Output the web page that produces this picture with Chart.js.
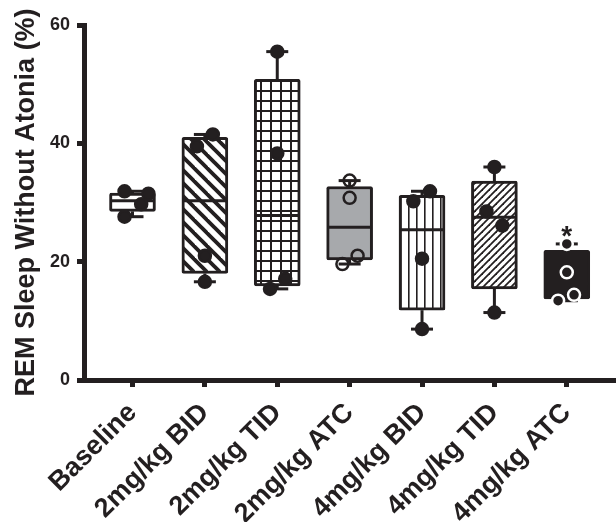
<!DOCTYPE html>
<html>
<head>
<meta charset="utf-8">
<script src="https://cdn.jsdelivr.net/npm/chart.js@4.4.1/dist/chart.umd.min.js"></script>
<style>
  html, body { margin: 0; padding: 0; background: #fff; }
  #wrap { width: 616px; height: 522px; }
</style>
</head>
<body>
<div id="wrap"><canvas id="chart"></canvas></div>
<script>
// data
const groups = ['Baseline', '2mg/kg BID', '2mg/kg TID', '2mg/kg ATC', '4mg/kg BID', '4mg/kg TID', '4mg/kg ATC'];
const whiskerLow  = [27.6, 16.6, 15.4, 19.6,  8.6, 11.4, 13.4];
const q1          = [28.5, 18.0, 15.9, 20.3, 11.8, 15.4, 13.7];
const median      = [30.3, 30.3, 27.8, 25.8, 25.4, 27.5, 16.3];
const q3          = [31.6, 41.0, 50.8, 32.7, 31.2, 33.6, 21.9];
const whiskerHigh = [31.9, 41.5, 55.5, 33.7, 31.9, 36.0, 23.0];
const points = [
  [31.9, 31.5, 29.7, 27.6],
  [41.5, 39.5, 21.0, 16.6],
  [55.5, 38.3, 17.1, 15.4],
  [33.7, 30.8, 21.0, 19.6],
  [31.9, 30.2, 20.5,  8.6],
  [36.0, 28.5, 26.1, 11.4],
  [23.0, 18.2, 14.4, 13.4]
];
const significance = ['', '', '', '', '', '', '*'];
const yTicks = [0, 20, 40, 60];

// horizontal scatter of the dots within each group (in category units)
const jitter = [
  [-0.11, 0.22, 0.12, -0.11],
  [0.11, -0.11, 0, 0],
  [0, 0, 0.11, -0.1],
  [0, 0, 0.11, -0.1],
  [0.11, -0.12, 0, 0],
  [0, -0.11, 0.11, 0],
  [0, 0, 0.1, -0.12]
];

const ink = '#231f20';
const FONT = "'Liberation Sans', Arial, sans-serif";

function tile(w, h, draw) {
  const c = document.createElement('canvas');
  c.width = w; c.height = h;
  const g = c.getContext('2d');
  g.fillStyle = '#fff';
  g.fillRect(0, 0, w, h);
  g.fillStyle = ink;
  g.strokeStyle = ink;
  draw(g, w, h);
  return g.createPattern(c, 'repeat');
}

function diagonal(s, width, dir) {
  return tile(s, s, (g) => {
    g.lineWidth = width;
    for (let k = -1; k <= 1; k++) {
      g.beginPath();
      if (dir === 'back') {
        g.moveTo(k * s - s, -s);
        g.lineTo(k * s + 2 * s, 2 * s);
      } else {
        g.moveTo(k * s - s, 2 * s);
        g.lineTo(k * s + 2 * s, -s);
      }
      g.stroke();
    }
  });
}

const fills = [
  '#ffffff',
  diagonal(13, 3.8, 'back'),
  tile(10, 10, (g, w, h) => { g.fillRect(0, 0, w, 2); g.fillRect(0, 0, 2, h); }),
  '#a7a9ac',
  tile(8, 8, (g, w, h) => { g.fillRect(0, 0, 1.6, h); }),
  diagonal(7, 1.8, 'fwd'),
  ink
];

const dotData = [], dotFill = [], dotEdge = [];
points.forEach((vals, i) => {
  vals.forEach((v, j) => {
    dotData.push({ x: i + 1 + jitter[i][j], y: v });
    if (i === 3) { dotFill.push('rgba(0,0,0,0)'); dotEdge.push(ink); }
    else if (i === 6) { dotFill.push(ink); dotEdge.push('#ffffff'); }
    else { dotFill.push(ink); dotEdge.push(ink); }
  });
});

const boxParts = {
  id: 'boxParts',
  afterDatasetDraw(chart, args) {
    if (args.index !== 1) return;
    const { ctx, scales: { x, y } } = chart;
    const meta = chart.getDatasetMeta(1);
    ctx.save();
    ctx.strokeStyle = ink;
    ctx.lineWidth = 3;
    ctx.lineCap = 'butt';
    groups.forEach((g, i) => {
      const cx = x.getPixelForValue(i + 1);
      const half = meta.data[i].width / 2 - 1;
      const cap = 11;
      const seg = (x1, y1, x2, y2) => { ctx.beginPath(); ctx.moveTo(x1, y1); ctx.lineTo(x2, y2); ctx.stroke(); };
      seg(cx - half, y.getPixelForValue(median[i]), cx + half, y.getPixelForValue(median[i]));
      seg(cx, y.getPixelForValue(q3[i]), cx, y.getPixelForValue(whiskerHigh[i]));
      seg(cx - cap, y.getPixelForValue(whiskerHigh[i]), cx + cap, y.getPixelForValue(whiskerHigh[i]));
      seg(cx, y.getPixelForValue(q1[i]), cx, y.getPixelForValue(whiskerLow[i]));
      seg(cx - cap, y.getPixelForValue(whiskerLow[i]), cx + cap, y.getPixelForValue(whiskerLow[i]));
    });
    ctx.restore();
  },
  afterDatasetsDraw(chart) {
    const { ctx, scales: { x, y } } = chart;
    ctx.save();
    ctx.fillStyle = ink;
    ctx.font = 'bold 28px ' + FONT;
    ctx.textAlign = 'center';
    ctx.textBaseline = 'alphabetic';
    significance.forEach((s, i) => {
      if (!s) return;
      ctx.fillText(s, x.getPixelForValue(i + 1), y.getPixelForValue(whiskerHigh[i]) + 1);
    });
    ctx.restore();
  }
};

new Chart(document.getElementById('chart'), {
  type: 'bar',
  data: {
    datasets: [
      {
        type: 'scatter',
        order: 0,
        data: dotData,
        pointRadius: 6,
        pointBackgroundColor: dotFill,
        pointBorderColor: dotEdge,
        pointBorderWidth: 2.5
      },
      {
        type: 'bar',
        order: 1,
        data: groups.map((g, i) => ({ x: i + 1, y: [q1[i], q3[i]] })),
        backgroundColor: fills,
        borderColor: ink,
        borderWidth: 3,
        borderSkipped: false,
        borderRadius: 2,
        barThickness: 46,
        grouped: false
      }
    ]
  },
  options: {
    responsive: true,
    maintainAspectRatio: false,
    animation: false,
    layout: { autoPadding: false, padding: { top: 25, right: 0, left: 0, bottom: 0 } },
    plugins: { legend: { display: false }, tooltip: { enabled: false } },
    scales: {
      x: {
        type: 'linear',
        offset: false,
        min: 0.33,
        max: 7.68,
        afterBuildTicks: (scale) => { scale.ticks = groups.map((g, i) => ({ value: i + 1 })); },
        afterFit: (scale) => { scale.height = 142; scale.paddingRight = 0; },
        border: { display: true, width: 5, color: ink },
        grid: { display: true, offset: false, drawOnChartArea: false, drawTicks: true, tickLength: 7, tickWidth: 5, tickColor: ink },
        ticks: {
          autoSkip: false,
          maxRotation: 45,
          minRotation: 45,
          padding: 10,
          color: ink,
          font: { family: FONT, size: 27, weight: 'bold' },
          callback: (v) => groups[Math.round(v) - 1] || ''
        }
      },
      y: {
        min: 0,
        max: 60,
        afterBuildTicks: (scale) => { scale.ticks = yTicks.map(v => ({ value: v })); },
        afterFit: (scale) => { scale.width = 84; },
        border: { display: true, width: 5, color: ink },
        grid: { display: true, drawOnChartArea: false, drawTicks: true, tickLength: 7, tickWidth: 5, tickColor: ink },
        ticks: { padding: 7, color: ink, font: { family: FONT, size: 18, weight: 'bold' } },
        title: {
          display: true,
          text: 'REM Sleep Without Atonia (%)',
          color: ink,
          font: { family: FONT, size: 27, weight: 'bold' },
          padding: { top: 10, bottom: 0 }
        }
      }
    }
  },
  plugins: [boxParts]
});
</script>
</body>
</html>
